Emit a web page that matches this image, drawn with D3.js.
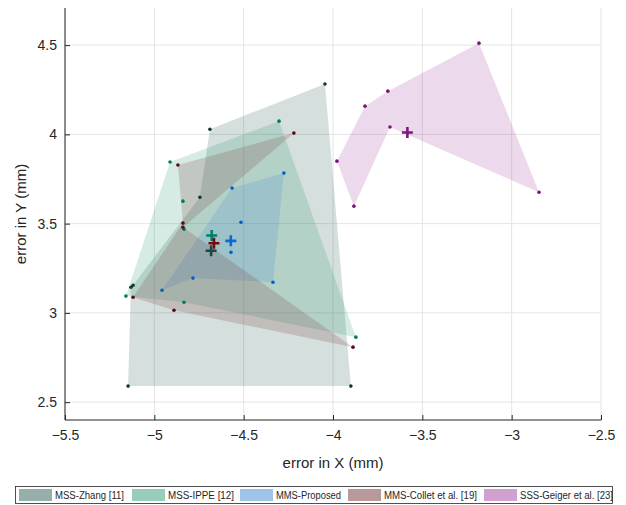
<!DOCTYPE html>
<html>
<head>
<meta charset="utf-8">
<script src="https://cdn.jsdelivr.net/npm/d3@7"></script>
<style>
  body { margin: 0; background: #fff; }
  svg text { font-family: "Liberation Sans", Arial, sans-serif; fill: #262626; }
</style>
</head>
<body>
<div id="chart"></div>
<script>
const width = 626;
const height = 505;

// series names and colours
const names = ["MSS-Zhang [11]", "MSS-IPPE [12]", "MMS-Proposed", "MMS-Collet et al. [19]", "SSS-Geiger et al. [23]"];
const fillColors = ["#2f5f55", "#319977", "#4189d1", "#713535", "#a141a1"];
const dotColors = ["#0f3a30", "#007a55", "#0060c8", "#5a0a14", "#7a127a"];
const crossColors = ["#1d4a40", "#00806a", "#0a6ad0", "#7a0a0a", "#80187f"];

// polygon vertices (error x, error y), in drawing order
const zhang = [[-4.045, 4.282], [-3.900, 2.590], [-5.147, 2.590], [-5.131, 3.144], [-5.119, 3.155], [-4.745, 3.648], [-4.689, 4.029]];
const ippe = [[-4.302, 4.074], [-3.872, 2.864], [-4.834, 3.060], [-5.159, 3.094], [-4.912, 3.845], [-4.840, 3.626], [-4.834, 3.469]];
const proposed = [[-4.275, 3.783], [-4.336, 3.172], [-4.784, 3.195], [-4.957, 3.127], [-4.565, 3.699], [-4.515, 3.508], [-4.571, 3.340]];
const collet = [[-4.219, 4.007], [-4.840, 3.480], [-3.888, 2.808], [-4.890, 3.015], [-5.119, 3.088], [-4.840, 3.503], [-4.868, 3.828]];
const geiger = [[-3.183, 4.511], [-2.847, 3.676], [-3.681, 4.041], [-3.883, 3.598], [-3.978, 3.850], [-3.821, 4.158], [-3.693, 4.242]];

// which vertices form the outline of each shape (the rest sit inside)
const outlines = [
  [0, 1, 2, 3, 4, 5, 6],
  [0, 1, 2, 3, 4],
  [0, 1, 2, 3, 4],
  [0, 1, 2, 3, 4, 5, 6],
  [0, 1, 2, 3, 4, 5, 6]
];
const series = [zhang, ippe, proposed, collet, geiger];

const xTicks = [-5.5, -5, -4.5, -4, -3.5, -3, -2.5];
const yTicks = [2.5, 3, 3.5, 4, 4.5];

const svg = d3.select("#chart")
  .append("svg")
  .attr("width", width)
  .attr("height", height);

const x = d3.scaleLinear().domain([-5.5, -2.5]).range([65, 601]);
const y = d3.scaleLinear().domain([2.4, 4.7]).range([420, 9.4]);

// grid
svg.append("g")
  .selectAll("line")
  .data(xTicks)
  .join("line")
  .attr("x1", d => x(d)).attr("x2", d => x(d))
  .attr("y1", 8).attr("y2", 420)
  .attr("stroke", "#e4e4e4");

svg.append("g")
  .selectAll("line")
  .data(yTicks)
  .join("line")
  .attr("x1", 65).attr("x2", 601)
  .attr("y1", d => y(d)).attr("y2", d => y(d))
  .attr("stroke", "#e4e4e4");

// filled shapes
const line = d3.line().x(d => x(d[0])).y(d => y(d[1]));
series.forEach((pts, i) => {
  const ring = outlines[i].map(k => pts[k]);
  svg.append("path")
    .attr("d", line(ring) + "Z")
    .attr("fill", fillColors[i])
    .attr("fill-opacity", 0.2)
    .attr("stroke", "none");
});

// points
series.forEach((pts, i) => {
  svg.append("g")
    .selectAll("circle")
    .data(pts)
    .join("circle")
    .attr("cx", d => x(d[0]))
    .attr("cy", d => y(d[1]))
    .attr("r", 1.8)
    .attr("fill", dotColors[i]);
});

// mean crosses
series.forEach((pts, i) => {
  const mx = x(d3.mean(pts, d => d[0]));
  const my = y(d3.mean(pts, d => d[1]));
  svg.append("path")
    .attr("d", `M${mx - 5.5},${my}H${mx + 5.5}M${mx},${my - 5.5}V${my + 5.5}`)
    .attr("stroke", crossColors[i])
    .attr("stroke-width", 2.6)
    .attr("fill", "none");
});

// axes
const xAxis = svg.append("g")
  .attr("transform", "translate(0,420)")
  .call(d3.axisBottom(x).tickValues(xTicks).tickSize(-5).tickPadding(10).tickFormat(d3.format("")));
const yAxis = svg.append("g")
  .attr("transform", "translate(65,0)")
  .call(d3.axisLeft(y).tickValues(yTicks).tickSize(-5).tickPadding(8).tickFormat(d3.format("")));

[xAxis, yAxis].forEach(a => {
  a.select(".domain").attr("stroke", "#262626");
  a.selectAll(".tick line").attr("stroke", "#262626");
  a.selectAll(".tick text").attr("font-size", 14).attr("fill", "#262626")
    .style("font-family", "'Liberation Sans', Arial, sans-serif");
});
yAxis.select(".domain").attr("d", "M0,8V420");
xAxis.select(".domain").attr("d", "M65,0H601");

svg.append("text")
  .attr("x", 333).attr("y", 468)
  .attr("text-anchor", "middle")
  .attr("font-size", 15)
  .text("error in X (mm)");

svg.append("text")
  .attr("transform", "translate(26,214) rotate(-90)")
  .attr("text-anchor", "middle")
  .attr("font-size", 15)
  .text("error in Y (mm)");

// legend
const legend = svg.append("g");
legend.append("rect")
  .attr("x", 15.5).attr("y", 486.5)
  .attr("width", 597).attr("height", 17)
  .attr("fill", "#fff")
  .attr("stroke", "#262626")
  .attr("stroke-width", 0.8);

const legendX = [19, 132, 240, 348, 484];
const legendW = [69, 66, 65, 93, 93];
names.forEach((n, i) => {
  legend.append("rect")
    .attr("x", legendX[i]).attr("y", 489)
    .attr("width", 33).attr("height", 12)
    .attr("fill", fillColors[i])
    .attr("fill-opacity", 0.5);
  legend.append("text")
    .attr("x", legendX[i] + 36).attr("y", 499)
    .attr("font-size", 10)
    .attr("textLength", legendW[i])
    .attr("lengthAdjust", "spacingAndGlyphs")
    .text(n);
});
</script>
</body>
</html>
